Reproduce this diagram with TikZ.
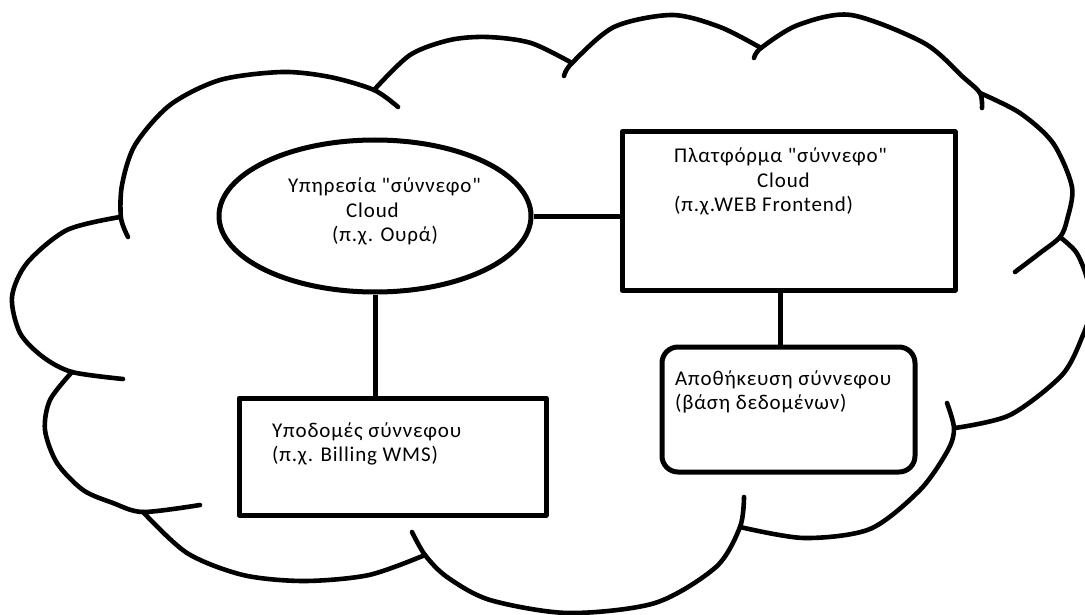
\documentclass[tikz,border=0pt]{standalone}
\usepackage{fontspec}
\setmainfont{Carlito}[Ligatures=TeXOff, LetterSpace=4]
\usetikzlibrary{shapes.geometric}
% a block of left-aligned lines whose baseline is that of its first line
\newcommand\lineblock[1]{\vtop{\baselineskip=24.5pt\lineskiplimit=-100pt\relax #1}}
\begin{document}
\begin{tikzpicture}[x=1pt, y=-1pt, line join=round,
  cloudline/.style={line width=4.6pt, line cap=round},
  shapebox/.style={draw, line width=5pt, inner sep=0pt},
  link/.style={line width=5pt},
  txt/.style={anchor=base west, inner sep=0pt, font=\fontsize{21}{24.5}\selectfont}]
\fill[white] (0,0) rectangle (1085,615);
\useasboundingbox (0,0) rectangle (1085,615);

% cloud outline: overlapping arcs with short inward tails
\begin{scope}
\clip (0,0) rectangle (1085,615);
\draw[cloudline] plot[smooth] coordinates {(128,237) (121,218) (122,185) (135,145) (170,105) (220,80) (282,72) (330,77) (374,90) (398,107)};
\draw[cloudline] plot[smooth] coordinates {(374,90) (410,55) (450,40) (488,37) (531,43) (572,63)};
\draw[cloudline] plot[smooth] coordinates {(564,76) (572,63) (614,27) (672,15) (720,27) (761,48)};
\draw[cloudline] plot[smooth] coordinates {(754,58) (761,48) (798,25) (851,15) (924,43) (963,77) (980,93) (982,108)};
\draw[cloudline] plot[smooth] coordinates {(980,93) (1020,113) (1053,143) (1072,187) (1067,220) (1060,237) (1040,253) (1015,272)};
\draw[cloudline] plot[smooth] coordinates {(1060,237) (1076,252) (1086,275) (1092,305) (1083,335) (1062,375) (1010,415) (955,428)};
\draw[cloudline] plot[smooth] coordinates {(740,527) (804,538) (870,529) (920,490) (948,450) (954,428) (947,403)};
\draw[cloudline] plot[smooth] coordinates {(412,532) (425,555) (447,577) (490,600) (568,613) (655,603) (716,567) (740,527) (744,497)};
\draw[cloudline] plot[smooth] coordinates {(143,512) (187,553) (243,575) (304,581) (369,575) (425,555)};
\draw[cloudline] plot[smooth] coordinates {(72,372) (50,400) (45,430) (57,463) (83,490) (113,503) (143,512) (200,505)};
\draw[cloudline] plot[smooth] coordinates {(120,217) (67,230) (27,263) (12,297) (20,333) (43,357) (72,372) (123,379)};
\end{scope}

% components
\node[shapebox, ellipse, minimum width=312pt, minimum height=152pt] (svc) at (375,216) {};
\node[shapebox, rectangle, minimum width=333pt, minimum height=158pt] (plat) at (788.5,211) {};
\node[shapebox, rectangle, rounded corners=16pt, minimum width=253pt, minimum height=125pt] (store) at (788.5,409.5) {};
\node[shapebox, rectangle, minimum width=307pt, minimum height=117pt] (infra) at (392.5,456.5) {};

% connections
\draw[link] (svc.east) -- (svc.east -| plat.west);
\draw[link] ([xshift=-8.5pt]plat.south) -- ([xshift=-8.5pt]store.north);
\draw[link] (svc.south) -- (svc.south |- infra.north);

% labels
\node[txt] (svclabel) at (288,193) {\lineblock{\hbox{Υπηρεσία "σύννεφο"}\hbox{\hskip58pt Cloud}\hbox{\hskip44pt(π.χ. Ουρά)}}};
\node[txt] (platlabel) at (674,163) {\lineblock{\hbox{Πλατφόρμα "σύννεφο"}\hbox{\hskip83pt Cloud}\hbox{(π.χ.WEB Frontend)}}};
\node[txt] (storelabel) at (675,385) {\lineblock{\hbox{Αποθήκευση σύννεφου}\hbox{(βάση δεδομένων)}}};
\node[txt] (infralabel) at (272,437) {\lineblock{\hbox{Υποδομές σύννεφου}\hbox{(π.χ. Billing WMS)}}};
\end{tikzpicture}
\end{document}
